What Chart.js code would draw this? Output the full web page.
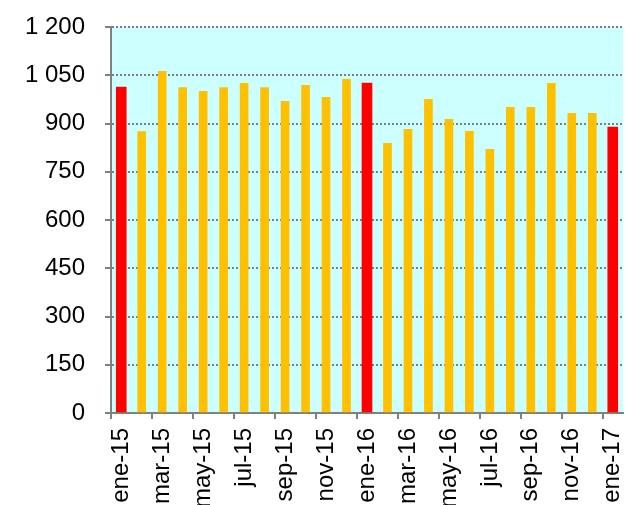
<!DOCTYPE html>
<html lang="es">
<head>
    <meta charset="UTF-8">
    <title>Serie mensual</title>
    <script src="https://cdn.jsdelivr.net/npm/chart.js@4.4.0/dist/chart.umd.min.js"></script>
    <style>
        body { margin: 0; background: #fff; }
        #wrap { width: 625px; height: 505px; }
    </style>
</head>
<body>
    <div id="wrap"><canvas id="grafico" width="625" height="505"></canvas></div>

    <script>
        // meses de ene-15 a ene-17
        const meses = ['ene-15', 'feb-15', 'mar-15', 'abr-15', 'may-15', 'jun-15', 'jul-15', 'ago-15', 'sep-15', 'oct-15', 'nov-15', 'dic-15',
                       'ene-16', 'feb-16', 'mar-16', 'abr-16', 'may-16', 'jun-16', 'jul-16', 'ago-16', 'sep-16', 'oct-16', 'nov-16', 'dic-16',
                       'ene-17'];
        const valores = [1013, 875, 1062, 1012, 1000, 1012, 1025, 1012, 969, 1019, 981, 1037,
                         1026, 838, 882, 975, 913, 876, 820, 950, 950, 1025, 932, 932,
                         889];
        const yTicks = [0, 150, 300, 450, 600, 750, 900, 1050, 1200];

        const esEnero = meses.map(m => m.startsWith('ene'));
        const valoresEnero = valores.map((v, i) => esEnero[i] ? v : null);
        const valoresResto = valores.map((v, i) => esEnero[i] ? null : v);

        function formato(v) {
            if (v >= 1000) return Math.floor(v / 1000) + ' ' + String(v % 1000).padStart(3, '0');
            return String(v);
        }

        const fondo = {
            id: 'fondo',
            beforeDraw(chart) {
                const a = chart.chartArea;
                const ctx = chart.ctx;
                ctx.save();
                ctx.fillStyle = '#ccffff';
                ctx.fillRect(a.left, a.top, a.right - a.left, a.bottom - a.top);
                ctx.restore();
            }
        };

        Chart.defaults.font.family = '"Liberation Sans", Arial, sans-serif';
        Chart.defaults.font.size = 24;
        Chart.defaults.color = '#000';

        new Chart(document.getElementById('grafico'), {
            type: 'bar',
            data: {
                labels: meses,
                datasets: [
                    { data: valoresResto, backgroundColor: '#ffc000', barThickness: 8 },
                    { data: valoresEnero, backgroundColor: '#ff0000', barThickness: 10 }
                ]
            },
            options: {
                responsive: false,
                animation: false,
                devicePixelRatio: 1,
                layout: { padding: { top: 27, right: 2, left: 0, bottom: 0 } },
                plugins: { legend: { display: false }, tooltip: { enabled: false } },
                datasets: { bar: { grouped: false } },
                scales: {
                    x: {
                        grid: {
                            offset: true,
                            drawOnChartArea: false,
                            tickLength: 6,
                            lineWidth: 2,
                            color: ctx => (ctx.index % 2 === 0 ? '#808080' : 'rgba(0,0,0,0)')
                        },
                        border: { color: '#808080', width: 2 },
                        ticks: {
                            autoSkip: false,
                            minRotation: 90,
                            maxRotation: 90,
                            padding: 9,
                            callback: (v, i) => (i % 2 === 0 ? meses[i] : '')
                        },
                        afterFit: s => { s.height = 92; s.paddingLeft = 0; s.paddingRight = 0; }
                    },
                    y: {
                        min: 0,
                        max: 1200,
                        afterBuildTicks: s => { s.ticks = yTicks.map(v => ({ value: v })); },
                        grid: {
                            color: '#808080',
                            lineWidth: 2,
                            tickLength: 6,
                            tickColor: '#808080',
                            tickBorderDash: [1, 0]
                        },
                        border: { color: '#808080', width: 2, dash: [2, 2] },
                        ticks: { padding: 20, callback: v => formato(v) },
                        afterFit: s => { s.width = 111; s.paddingTop = 0; s.paddingBottom = 0; }
                    }
                }
            },
            plugins: [fondo]
        });
    </script>
</body>
</html>
